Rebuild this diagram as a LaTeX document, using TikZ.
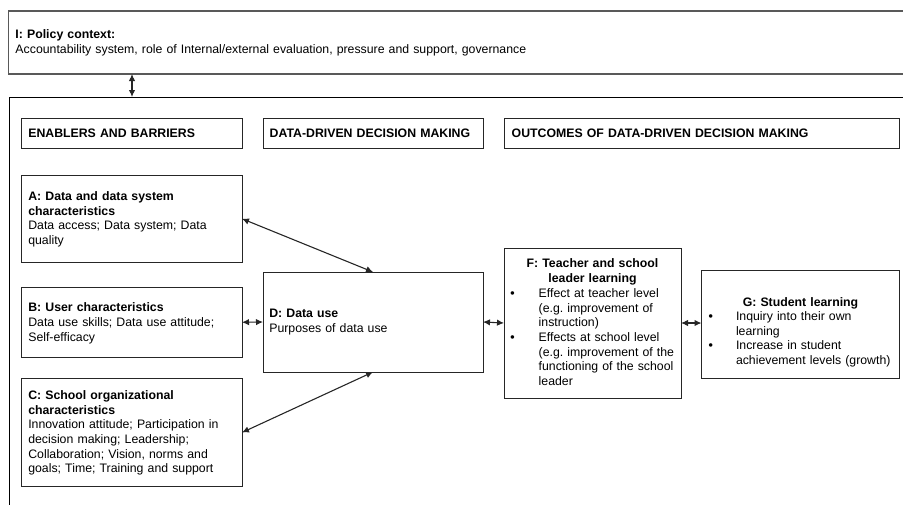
\documentclass[tikz,border=0pt]{standalone}
\usepackage{fontspec}
\setmainfont{Liberation Sans}
\usetikzlibrary{arrows.meta,calc}
\begin{document}
\frenchspacing
\begin{tikzpicture}[x=1pt,y=-1pt,
  box/.style={draw=black!85, line width=0.8pt, anchor=north west, inner sep=0pt, outer sep=0pt},
  txt/.style={anchor=base west, inner sep=0pt, outer sep=0pt, align=left, text width=300pt,
    font=\fontsize{12.3}{14.7}\selectfont},
  ttl/.style={anchor=base, inner sep=0pt, outer sep=0pt, align=center,
    font=\fontsize{12.3}{14.7}\selectfont\bfseries},
  link/.style={{Latex[length=7pt,width=6.5pt]}-{Latex[length=7pt,width=6.5pt]}, line width=1.1pt, draw=black!85}
]
\useasboundingbox (0,0) rectangle (903,504);
\clip (0,0) rectangle (903,504);

% outer frames
\node[box, draw=black!65, line width=1.4pt, minimum width=902pt, minimum height=63pt] (I) at (8.5,11) {};
\node[box, draw=black, line width=0.9pt, minimum width=901pt, minimum height=430pt] (M) at (9,97) {};

% header boxes
\node[box, minimum width=220.5pt, minimum height=30pt] (H1) at (21.5,118.5) {};
\node[box, minimum width=220pt, minimum height=30pt] (H2) at (263,118.5) {};
\node[box, minimum width=395.5pt, minimum height=30pt] (H3) at (504,118.5) {};

% content boxes
\node[box, minimum width=220.5pt, minimum height=86.5pt] (A) at (21.5,175.5) {};
\node[box, minimum width=220.5pt, minimum height=69.5pt] (B) at (21.5,287.5) {};
\node[box, minimum width=220.5pt, minimum height=108pt] (C) at (21.5,378.5) {};
\node[box, minimum width=220pt, minimum height=100pt] (D) at (263,272) {};
\node[box, minimum width=177pt, minimum height=150pt] (F) at (504,248) {};
\node[box, minimum width=198pt, minimum height=108pt] (G) at (701.5,270.5) {};

% texts
\node[txt, text width=600pt, font=\fontsize{12.3}{15.8}\selectfont] (tI) at (15.5,38) {\textbf{I: Policy context:}\\Accountability system, role of Internal/external evaluation, pressure and support, governance};
\node[txt] (tH1) at (28.3,137.3) {\textbf{ENABLERS AND BARRIERS}};
\node[txt] (tH2) at (269.7,137.3) {\textbf{DATA-DRIVEN DECISION MAKING}};
\node[txt] (tH3) at (511.7,137.3) {\textbf{OUTCOMES OF DATA-DRIVEN DECISION MAKING}};

\node[txt] (tA) at (28.3,200.3) {\textbf{A: Data and data system}\\\textbf{characteristics}\\Data access; Data system; Data\\quality};
\node[txt] (tB) at (28.3,311.7) {\textbf{B: User characteristics}\\Data use skills; Data use attitude;\\Self-efficacy};
\node[txt] (tC) at (28.3,399.3) {\textbf{C: School organizational}\\\textbf{characteristics}\\Innovation attitude; Participation in\\decision making; Leadership;\\Collaboration; Vision, norms and\\goals; Time; Training and support};
\node[txt] (tD) at (269.3,317.7) {\textbf{D: Data use}\\Purposes of data use};

\node[ttl, text width=177pt] (tF) at (592.5,267.7) {F: Teacher and school\\leader learning};
\node[txt] (bF) at (510.3,297.3) {\makebox[28.4pt][l]{\textbf{\textbullet}}Effect at teacher level\\
\hspace*{28.4pt}(e.g. improvement of\\
\hspace*{28.4pt}instruction)\\
\makebox[28.4pt][l]{\textbf{\textbullet}}Effects at school level\\
\hspace*{28.4pt}(e.g. improvement of the\\
\hspace*{28.4pt}functioning of the school\\
\hspace*{28.4pt}leader};

\node[ttl, text width=198pt] (tG) at (800.5,306) {G: Student learning};
\node[txt] (bG) at (708.7,320.3) {\makebox[27.3pt][l]{\textbf{\textbullet}}Inquiry into their own\\
\hspace*{27.3pt}learning\\
\makebox[27.3pt][l]{\textbf{\textbullet}}Increase in student\\
\hspace*{27.3pt}achievement levels (growth)};

% connectors
\coordinate (ax) at (132,0);
\draw[link] (ax |- I.south) -- (ax |- M.north);
\draw[link] (A.east) -- (D.north);
\draw[link] (B.east) -- (D.west);
\draw[link] (C.east) -- (D.south);
\draw[link] (D.east) -- (F.west);
\draw[link] (F.east) -- (F.east -| G.west);
\end{tikzpicture}
\end{document}
